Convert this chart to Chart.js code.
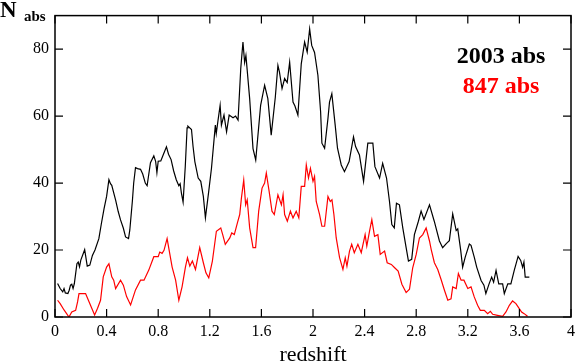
<!DOCTYPE html>
<html lang="en">

<head>
    <meta charset="UTF-8">
    <title>N abs vs redshift</title>
    <script src="https://cdn.jsdelivr.net/npm/chart.js"></script>
    <style>
        body { margin: 0; background: #fff; }
        #wrap { width: 580px; height: 364px; }
    </style>
</head>

<body>
    <div id="wrap"><canvas id="absChart"></canvas></div>

    <script>
        // data
        const blackZ = [0.02, 0.04, 0.06, 0.07, 0.08, 0.1, 0.11, 0.12, 0.13, 0.14, 0.15, 0.17, 0.18, 0.19, 0.2, 0.23, 0.25, 0.27, 0.29, 0.31,
            0.34, 0.36, 0.38, 0.4, 0.418, 0.43, 0.44, 0.47, 0.49, 0.508, 0.53, 0.547, 0.57, 0.58, 0.6, 0.61, 0.624, 0.64, 0.663, 0.68,
            0.7, 0.714, 0.74, 0.766, 0.78, 0.79, 0.8, 0.82, 0.84, 0.864, 0.88, 0.9, 0.92, 0.94, 0.96, 0.97, 0.98, 0.993, 1.01, 1.024,
            1.03, 1.058, 1.07, 1.084, 1.11, 1.13, 1.15, 1.166, 1.19, 1.213, 1.243, 1.25, 1.264, 1.28, 1.29, 1.31, 1.33, 1.35, 1.38, 1.4,
            1.419, 1.44, 1.457, 1.47, 1.48, 1.509, 1.535, 1.556, 1.594, 1.625, 1.65, 1.676, 1.708, 1.728, 1.74, 1.76, 1.78, 1.8, 1.819, 1.845,
            1.86, 1.883, 1.909, 1.935, 1.955, 1.974, 1.99, 2.012, 2.038, 2.059, 2.069, 2.09, 2.116, 2.128, 2.146, 2.172, 2.19, 2.219, 2.244, 2.28,
            2.314, 2.33, 2.36, 2.392, 2.425, 2.464, 2.48, 2.516, 2.54, 2.57, 2.593, 2.611, 2.63, 2.647, 2.67, 2.696, 2.722, 2.74, 2.765, 2.786,
            2.817, 2.838, 2.86, 2.903, 2.94, 2.98, 3.005, 3.035, 3.057, 3.083, 3.11, 3.122, 3.145, 3.16, 3.18, 3.212, 3.225, 3.25, 3.269, 3.303,
            3.325, 3.34, 3.365, 3.385, 3.4, 3.419, 3.44, 3.47, 3.483, 3.51, 3.534, 3.56, 3.59, 3.61, 3.625, 3.635, 3.645, 3.677];
        const blackN = [10, 8.5, 7.5, 8.5, 7.2, 7, 8, 9.5, 9.8, 8.5, 10, 15.9, 16.4, 15, 17, 20.1, 15.2, 15.5, 18.4, 20,
            23.4, 28, 32.3, 36, 41, 39.8, 39.3, 34.9, 31.5, 29, 26.5, 23.9, 23.4, 26, 34.7, 40, 44.6, 44.3, 44.1, 42.7,
            40, 39.2, 46.1, 48.1, 46.5, 43.1, 46.5, 46.6, 48.5, 50.8, 48.6, 47, 43.6, 41, 39.2, 39.8, 37, 34.3, 45, 56.5,
            57, 56, 51, 46.4, 41.5, 40.5, 36, 29.6, 37, 44.4, 57.3, 54.8, 58.8, 63.2, 57.3, 60.3, 55.3, 60.3, 59.5, 60,
            58.8, 74.2, 82.1, 76, 78.1, 65.2, 50.3, 46.9, 63.2, 69.2, 65.2, 54.3, 65.7, 75.1, 73.1, 68.2, 71.2, 70, 76.1, 64.2,
            63, 60.3, 75.6, 82.1, 79.1, 86, 81.1, 79, 72.2, 61.3, 51.9, 50.4, 59.3, 64.2, 66.7, 57.3, 50.4, 45.4, 43.4, 46.4,
            53.8, 50.9, 48.4, 40.5, 51.9, 51.9, 44.9, 41.5, 45.9, 41.5, 34.5, 27.6, 26.6, 34, 33.5, 26.6, 20.7, 16.7, 17.2, 24.6,
            28.6, 31.6, 29.1, 33.5, 28.6, 22.7, 20.7, 22, 22.8, 30.8, 25.8, 26.3, 19.9, 14.9, 17.9, 21.8, 21.4, 17.9, 14.9, 10.9,
            9.5, 7, 9.9, 11.9, 10.4, 13.9, 9.9, 9.9, 7, 9.9, 9.9, 13.9, 18.1, 16.9, 14.9, 16.4, 11.9, 11.9];

        const redZ = [0.02, 0.04, 0.07, 0.09, 0.108, 0.13, 0.16, 0.175, 0.186, 0.237, 0.263, 0.285, 0.307, 0.33, 0.353, 0.374, 0.4, 0.418, 0.44, 0.455,
            0.47, 0.508, 0.53, 0.555, 0.586, 0.624, 0.663, 0.69, 0.727, 0.766, 0.8, 0.812, 0.83, 0.845, 0.869, 0.908, 0.935, 0.96, 0.985, 1.011,
            1.027, 1.045, 1.065, 1.089, 1.122, 1.15, 1.17, 1.192, 1.22, 1.251, 1.285, 1.3, 1.32, 1.355, 1.37, 1.39, 1.414, 1.432, 1.445, 1.463,
            1.478, 1.49, 1.509, 1.535, 1.555, 1.579, 1.605, 1.625, 1.638, 1.66, 1.682, 1.7, 1.728, 1.755, 1.768, 1.78, 1.801, 1.825, 1.845, 1.87,
            1.89, 1.909, 1.935, 1.948, 1.965, 1.98, 2.0, 2.012, 2.025, 2.051, 2.069, 2.09, 2.116, 2.134, 2.147, 2.162, 2.18, 2.206, 2.232, 2.25,
            2.263, 2.283, 2.3, 2.32, 2.348, 2.374, 2.404, 2.417, 2.438, 2.456, 2.477, 2.503, 2.521, 2.555, 2.575, 2.607, 2.633, 2.66, 2.689, 2.722,
            2.748, 2.773, 2.8, 2.825, 2.851, 2.877, 2.903, 2.916, 2.941, 2.967, 2.993, 3.019, 3.045, 3.07, 3.083, 3.11, 3.127, 3.148, 3.17, 3.2,
            3.225, 3.25, 3.276, 3.297, 3.328, 3.354, 3.375, 3.393, 3.43, 3.47, 3.496, 3.522, 3.547, 3.573, 3.599, 3.617, 3.637, 3.663];
        const redN = [5, 4, 2.1, 1, 0, 1.5, 2, 4.5, 7, 7, 4.6, 2.6, 0.6, 2.6, 5, 12, 14.9, 15.9, 12, 11,
            8.5, 11, 9.5, 6.1, 3.6, 8.1, 11, 11, 14, 18, 18, 19.4, 19, 19.9, 23.4, 14.9, 11, 5, 9, 14.9,
            17.7, 15.2, 16.7, 14.2, 20.7, 16.2, 13.2, 11.7, 16.7, 25.6, 26.6, 24.6, 21.7, 23.6, 25.1, 24.6, 28.1, 30.6, 35.5, 40.9,
            33.5, 35, 26.6, 20.7, 20.7, 31.6, 38.5, 40, 43, 37.5, 31.6, 30.6, 36.5, 33.5, 36.5, 30.6, 28.6, 31.6, 29.6, 31.6,
            29.6, 39, 39, 45.4, 41.5, 44.4, 40.5, 42, 34.5, 30.6, 27.1, 27.1, 36, 34.5, 35, 30.6, 23.6, 17.7, 14.2, 17.7,
            15.2, 19.7, 21.7, 19.2, 21.7, 19.2, 24.6, 21.2, 25.6, 29.1, 24.1, 24.6, 18.7, 19.7, 16.2, 15.7, 14.7, 13.7, 9.8, 7.3,
            8.3, 14.7, 18.7, 23.6, 24.6, 26.6, 22.7, 20.2, 16.2, 14.2, 11.2, 8, 5, 5.4, 9, 8.5, 13, 11, 11, 8.5,
            9, 6, 3.5, 2, 2, 1, 1.7, 0.8, 0.5, 0.2, 1.5, 3.5, 4.8, 4, 2.5, 1.5, 1, 0.2];

        const xTicks = [0, 0.4, 0.8, 1.2, 1.6, 2, 2.4, 2.8, 3.2, 3.6, 4];
        const yTicks = [0, 20, 40, 60, 80];
        const seriesLabels = ['2003 abs', '847 abs'];

        const serif = "'Liberation Serif', 'DejaVu Serif', serif";

        function toPoints(zs, ns) {
            return zs.map((z, i) => ({ x: z, y: ns[i] }));
        }

        // frame with inward ticks on all four sides, plus the labels
        const framePlugin = {
            id: 'frame',
            afterDraw(chart) {
                const { ctx, chartArea: a, scales } = chart;
                const len = 8;
                ctx.save();
                ctx.strokeStyle = '#000';
                ctx.lineWidth = 1.5;
                ctx.strokeRect(a.left, a.top, a.right - a.left, a.bottom - a.top);
                ctx.lineWidth = 1.2;
                ctx.beginPath();
                xTicks.forEach(v => {
                    const px = scales.x.getPixelForValue(v);
                    ctx.moveTo(px, a.bottom); ctx.lineTo(px, a.bottom - len);
                    ctx.moveTo(px, a.top); ctx.lineTo(px, a.top + len);
                });
                yTicks.forEach(v => {
                    const py = scales.y.getPixelForValue(v);
                    ctx.moveTo(a.left, py); ctx.lineTo(a.left + len, py);
                    ctx.moveTo(a.right, py); ctx.lineTo(a.right - len, py);
                });
                ctx.stroke();

                // y axis label "N abs"
                ctx.fillStyle = '#000';
                ctx.textBaseline = 'alphabetic';
                ctx.textAlign = 'left';
                ctx.font = 'bold 23px ' + serif;
                ctx.fillText('N', 0, 17);
                ctx.font = 'bold 15px ' + serif;
                ctx.fillText('abs', 24, 21);

                // series labels
                ctx.textAlign = 'center';
                ctx.font = 'bold 24px ' + serif;
                chart.data.datasets.forEach((ds, i) => {
                    ctx.fillStyle = ds.borderColor;
                    ctx.fillText(ds.label, 501, 63 + i * 30);
                });
                ctx.restore();
            }
        };

        const ctx = document.getElementById('absChart').getContext('2d');
        const absChart = new Chart(ctx, {
            type: 'scatter',
            data: {
                datasets: [{
                    label: seriesLabels[0],
                    data: toPoints(blackZ, blackN),
                    showLine: true,
                    borderColor: '#000000',
                    borderWidth: 1.2,
                    pointRadius: 0,
                    tension: 0
                }, {
                    label: seriesLabels[1],
                    data: toPoints(redZ, redN),
                    showLine: true,
                    borderColor: '#ff0000',
                    borderWidth: 1.2,
                    pointRadius: 0,
                    tension: 0
                }]
            },
            options: {
                responsive: true,
                maintainAspectRatio: false,
                animation: false,
                layout: { padding: { left: 0, right: 8, top: 14, bottom: 0 } },
                plugins: {
                    legend: { display: false },
                    tooltip: { enabled: false }
                },
                scales: {
                    x: {
                        type: 'linear',
                        min: 0,
                        max: 4,
                        afterFit: s => { s.height = 47; },
                        afterBuildTicks: s => { s.ticks = xTicks.map(v => ({ value: v })); },
                        grid: { drawOnChartArea: false, drawTicks: false },
                        border: { display: false },
                        ticks: {
                            padding: 5,
                            color: '#000',
                            maxRotation: 0,
                            autoSkip: false,
                            font: { family: serif, size: 16 },
                            callback: v => String(+v.toFixed(1))
                        },
                        title: {
                            display: true,
                            text: 'redshift',
                            color: '#000',
                            padding: { top: 0, bottom: -4 },
                            font: { family: serif, size: 22 }
                        }
                    },
                    y: {
                        min: 0,
                        max: 90,
                        afterFit: s => { s.width = 55; },
                        afterBuildTicks: s => { s.ticks = yTicks.map(v => ({ value: v })); },
                        grid: { drawOnChartArea: false, drawTicks: false },
                        border: { display: false },
                        ticks: {
                            padding: 6,
                            color: '#000',
                            autoSkip: false,
                            font: { family: serif, size: 16 }
                        }
                    }
                }
            },
            plugins: [framePlugin]
        });
    </script>
</body>

</html>
